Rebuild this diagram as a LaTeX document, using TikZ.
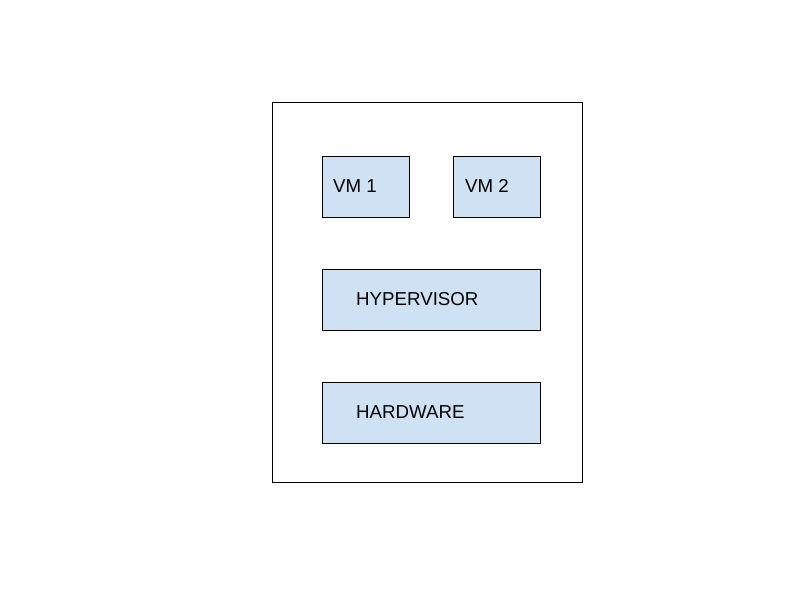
\documentclass[tikz,border=0pt]{standalone}
\usepackage{fontspec}
\setmainfont{Liberation Sans}
\definecolor{boxblue}{HTML}{CFE2F3}
\begin{document}
\begin{tikzpicture}[x=1pt,y=-1pt,
  box/.style={draw=black,fill=boxblue,line width=0.8pt,rectangle,inner sep=0pt,anchor=north west},
  lbl/.style={anchor=west,inner sep=0pt,font=\fontsize{18.7}{20}\selectfont}]
\useasboundingbox (0,0) rectangle (800,600);
\node[draw=black,line width=0.8pt,inner sep=0pt,anchor=north west,minimum width=310pt,minimum height=380pt] (outer) at (272,102) {};
\node[box,minimum width=87pt,minimum height=61pt] (vm1) at (322,156) {};
\node[box,minimum width=87pt,minimum height=61pt] (vm2) at (453,156) {};
\node[box,minimum width=218pt,minimum height=61pt] (hyp) at (322,269) {};
\node[box,minimum width=218pt,minimum height=61pt] (hw) at (322,382) {};
\node[lbl] (t1) at ([xshift=11pt,yshift=1pt]vm1.west) {VM 1};
\node[lbl] (t2) at ([xshift=12pt,yshift=1pt]vm2.west) {VM 2};
\node[lbl] (t3) at ([xshift=34pt,yshift=1pt]hyp.west) {HYPERVISOR};
\node[lbl] (t4) at ([xshift=34pt,yshift=1pt]hw.west) {HARDWARE};
\end{tikzpicture}
\end{document}
